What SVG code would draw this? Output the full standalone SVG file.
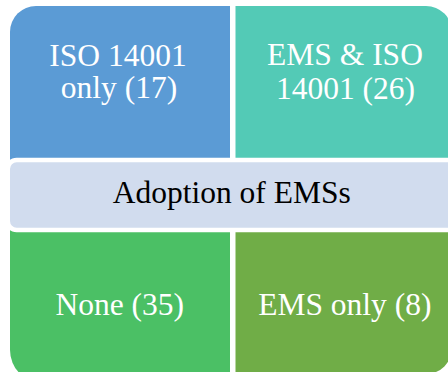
<svg xmlns="http://www.w3.org/2000/svg" width="448" height="372" viewBox="0 0 448 372">
  <style>
    .lbl { font-family: "Liberation Serif", "Times New Roman", serif; font-size: 31.5px; text-anchor: middle; }
    .light { fill: #ffffff; }
    .dark { fill: #000000; }
  </style>
  <rect x="0" y="0" width="448" height="372" fill="#ffffff"/>

  <!-- four quadrants, outer corners rounded -->
  <g id="iso-only">
    <path d="M36,6 H230 V196 H10 V32 A26,26 0 0 1 36,6 Z" fill="#5B9BD5"/>
    <text class="lbl light" x="118" y="66">ISO 14001</text>
    <text class="lbl light" x="119" y="98">only (17)</text>
  </g>
  <g id="ems-and-iso">
    <path d="M235.5,6 H426 A26,26 0 0 1 452,32 V196 H235.5 Z" fill="#53CAB6"/>
    <text class="lbl light" x="345" y="65">EMS &amp; ISO</text>
    <text class="lbl light" x="345.5" y="98.5">14001 (26)</text>
  </g>
  <g id="none">
    <path d="M10,196 H230 V383 H43 A33,33 0 0 1 10,350 Z" fill="#4BC065"/>
    <text class="lbl light" x="119.7" y="315">None (35)</text>
  </g>
  <g id="ems-only">
    <path d="M235.5,196 H452 V348 A26,26 0 0 1 426,374 H235.5 Z" fill="#70AD47"/>
    <text class="lbl light" x="344.8" y="315">EMS only (8)</text>
  </g>

  <!-- central title bar over the quadrants -->
  <g id="adoption">
    <rect x="7.7" y="160" width="450" height="70" rx="9" fill="#D1DCEE" stroke="#ffffff" stroke-width="4.6"/>
    <text class="lbl dark" x="231.7" y="203.3">Adoption of EMSs</text>
  </g>

  <g id="connectors"/>
</svg>
